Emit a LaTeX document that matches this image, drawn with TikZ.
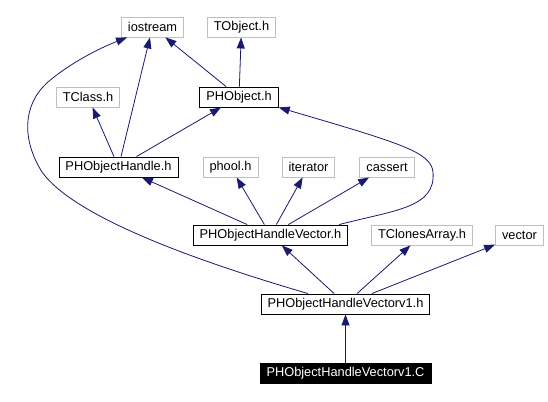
\documentclass[tikz,border=0pt]{standalone}
\usepackage{fontspec}
\setmainfont{Liberation Sans}
\usetikzlibrary{arrows.meta,positioning}
\definecolor{edgeblue}{HTML}{191970}
\definecolor{sysgray}{HTML}{BFBFBF}

\begin{document}
\begin{tikzpicture}[x=1pt, y=-1pt,
        header/.style = {draw = black, line width = 0.9pt, minimum height = 20pt, inner xsep = 6.5pt, inner ysep = 0pt, font = \fontsize{12.8}{14}\selectfont},
        sysheader/.style = {header, draw = sysgray},
        srcfile/.style = {header, fill = black, text = white},
        dep/.style = {draw = edgeblue, line width = 0.8pt, -{Triangle[length=11pt, width=8pt]}}]

        \useasboundingbox (0,0) rectangle (548,401);

        % Define header nodes
        \node[sysheader] (iostream) at (152.5,27) {iostream};
        \node[sysheader] (tobject) at (241.5,27) {TObject.h};
        \node[sysheader] (tclass) at (88,97) {TClass.h};
        \node[header] (phobject) at (239,97) {PHObject.h};
        \node[header] (handle) at (118.5,167) {PHObjectHandle.h};
        \node[sysheader] (phool) at (230.5,167) {phool.h};
        \node[sysheader] (iterator) at (308.5,167) {iterator};
        \node[sysheader] (cassert) at (387,167) {cassert};
        \node[header] (handlevec) at (270.5,235) {PHObjectHandleVector.h};
        \node[sysheader] (tclones) at (422,235) {TClonesArray.h};
        \node[sysheader] (vector) at (519.5,235) {vector};
        \node[header] (vecvoneh) at (345.5,304) {PHObjectHandleVectorv1.h};
        \node[srcfile] (vecvonec) at (345.5,373.5) {PHObjectHandleVectorv1.C};

        % Includes
        \draw[dep] (vecvonec) -- (vecvoneh);
        \draw[dep] (vecvoneh) -- (handlevec);
        \draw[dep] (vecvoneh) -- (tclones);
        \draw[dep] (vecvoneh) -- (vector);
        \draw[dep] ([xshift=-37.5pt]vecvoneh.north) .. controls (200,262) and (75,218) .. (42,172)
                .. controls (22,140) and (22,105) .. (48,82)
                .. controls (70,63) and (100,48) .. ([xshift=6pt]iostream.south west);
        \draw[dep] (handlevec) -- (handle);
        \draw[dep] (handlevec) -- (phool);
        \draw[dep] (handlevec) -- (iterator);
        \draw[dep] (handlevec) -- (cassert);
        \draw[dep] ([xshift=-9pt]handlevec.north east) .. controls (395,210) and (436,208) .. (433,172)
                .. controls (431,152) and (400,143) .. (phobject.south east);
        \draw[dep] (handle) -- (tclass);
        \draw[dep] (handle) -- (iostream);
        \draw[dep] (handle) -- (phobject);
        \draw[dep] (phobject) -- (iostream);
        \draw[dep] (phobject) -- (tobject);
    \end{tikzpicture}
\end{document}
